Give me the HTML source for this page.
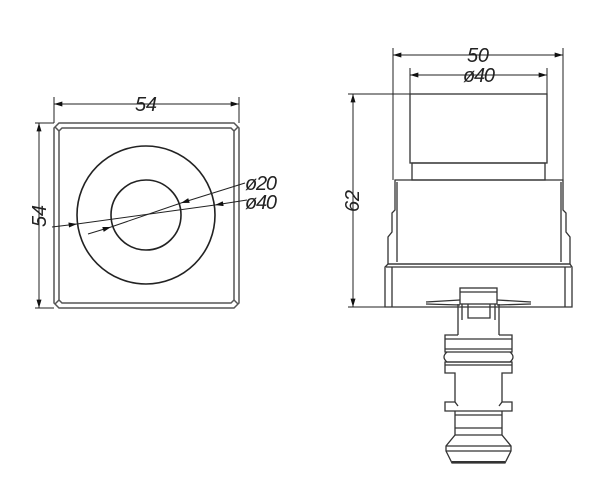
<!DOCTYPE html>
<html><head><meta charset="utf-8"><style>
html,body{margin:0;padding:0;background:#fff;}
svg{display:block;}
text{font-family:"Liberation Sans",sans-serif;font-style:italic;fill:#222;}
</style></head><body>
<svg width="600" height="500" viewBox="0 0 600 500" xmlns="http://www.w3.org/2000/svg">
<defs>
<marker id="a" viewBox="0 0 10 6" refX="10" refY="3" markerWidth="14" markerHeight="5" orient="auto-start-reverse" markerUnits="userSpaceOnUse"><path d="M0,0 L10,3 L0,6 z" fill="#111"/></marker>
</defs>
<g fill="none" stroke="#222" stroke-width="1">
<line x1="54" y1="97" x2="54" y2="123"/><line x1="239" y1="97" x2="239" y2="123"/>
<line x1="54" y1="104" x2="239" y2="104" marker-start="url(#a)" marker-end="url(#a)"/>
<line x1="35" y1="123" x2="54" y2="123"/><line x1="35" y1="308" x2="54" y2="308"/>
<line x1="39" y1="123" x2="39" y2="308" marker-start="url(#a)" marker-end="url(#a)"/>
<g stroke="#555" stroke-width="1.5">
<path d="M59,123 L234,123 L239,128 L239,303 L234,308 L59,308 L54,303 L54,128 Z"/>
<path d="M62,128 L231,128 L234,131 L234,300 L231,303 L62,303 L59,300 L59,131 Z"/>
<line x1="55" y1="127" x2="59" y2="131"/><line x1="238" y1="127" x2="234" y2="131"/>
<line x1="55" y1="304" x2="59" y2="300"/><line x1="238" y1="304" x2="234" y2="300"/>
</g>
<circle cx="146" cy="215" r="69" stroke-width="1.6"/>
<circle cx="146" cy="215" r="35" stroke-width="1.6"/>
<line x1="52" y1="227" x2="77" y2="224" marker-end="url(#a)"/>
<line x1="77" y1="224" x2="215" y2="205"/>
<line x1="247" y1="200" x2="215" y2="205" marker-end="url(#a)"/>
<line x1="88" y1="234" x2="111" y2="227" marker-end="url(#a)"/>
<line x1="111" y1="227" x2="181" y2="203"/>
<line x1="245" y1="183" x2="181" y2="203" marker-end="url(#a)"/>
<line x1="393" y1="48" x2="393" y2="180"/><line x1="563" y1="48" x2="563" y2="180"/>
<line x1="393" y1="55" x2="563" y2="55" marker-start="url(#a)" marker-end="url(#a)"/>
<line x1="410" y1="68" x2="410" y2="94"/><line x1="547" y1="68" x2="547" y2="94"/>
<line x1="410" y1="75" x2="547" y2="75" marker-start="url(#a)" marker-end="url(#a)"/>
<line x1="348" y1="94" x2="410" y2="94"/><line x1="348" y1="307" x2="386" y2="307"/>
<line x1="353" y1="94" x2="353" y2="307" marker-start="url(#a)" marker-end="url(#a)"/>
<g stroke="#333" stroke-width="1.3">
<rect x="410" y="94" width="137" height="69"/>
<rect x="412" y="163" width="133" height="17"/>
<path d="M395,180 L563,180 L563,210 L566,213 L566,232 L570,237 L570,264 L388,264 L388,237 L392,232 L392,213 L395,210 Z"/>
<line x1="397" y1="182" x2="397" y2="262"/><line x1="561" y1="182" x2="561" y2="262"/>
<path d="M388,264 L570,264 L572,267 L572,307 L385,307 L385,267 Z"/>
<line x1="392" y1="267" x2="392" y2="307"/><line x1="565" y1="267" x2="565" y2="307"/>
<line x1="386" y1="267" x2="571" y2="267"/>
<rect x="460" y="288" width="37" height="16"/>
<line x1="460" y1="292" x2="497" y2="292"/>
<path d="M426,302 L460,300 M426,304 L460,305 M497,300 L531,302 M497,305 L531,304"/>
<path d="M458,304 L458,335 M499,304 L499,335"/>
<path d="M462,304 L462,320 M495,304 L495,320 M468,304 L468,318 L490,318 L490,304"/>
<path d="M458,335 L445,335 L445,352 L512,352 L512,335 L499,335"/>
<line x1="445" y1="339" x2="512" y2="339"/><line x1="445" y1="349" x2="512" y2="349"/>
<path d="M447,352 Q441,357 447,362 L510,362 Q516,357 510,352"/>
<path d="M445,362 L445,373 L455,373 L455,402 L445,402 L445,411 L512,411 L512,402 L502,402 L502,373 L512,373 L512,362 Z"/>
<line x1="445" y1="365" x2="512" y2="365"/>
<path d="M455,402 L458,406 M502,402 L499,406"/>
<path d="M455,411 L455,435 L446,446 L446,451 L452,463 L505,463 L511,451 L511,446 L502,435 L502,411"/>
<line x1="455" y1="415" x2="502" y2="415"/><line x1="455" y1="428" x2="502" y2="428"/>
<line x1="455" y1="435" x2="502" y2="435"/><line x1="446" y1="446" x2="511" y2="446"/>
<line x1="446" y1="451" x2="511" y2="451"/>
<line x1="452" y1="462" x2="505" y2="462" stroke-width="2"/>
</g>
</g>
<g font-size="20" text-anchor="middle">
<text x="146" y="111" textLength="22">54</text>
<text x="478" y="62" textLength="22">50</text>
<text x="479" y="82" textLength="32">ø40</text>
<text x="261" y="190" textLength="32">ø20</text>
<text x="261" y="209" textLength="32">ø40</text>
<text transform="translate(46,216) rotate(-90)" textLength="22">54</text>
<text transform="translate(359,201) rotate(-90)" textLength="22">62</text>
</g>
</svg>
</body></html>
